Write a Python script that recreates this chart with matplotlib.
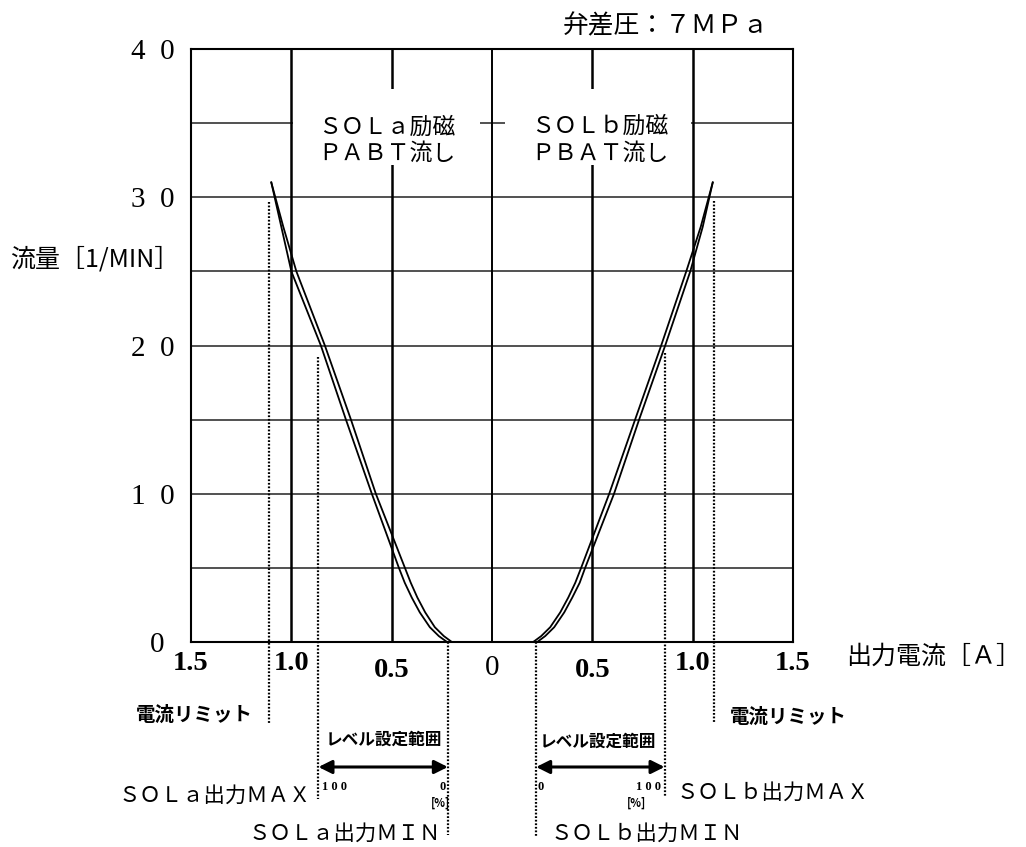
import matplotlib.pyplot as plt
from matplotlib.patches import Rectangle

plt.rcParams['font.family'] = ['Noto Sans CJK JP', 'DejaVu Sans']

# 流量カーブ (出力電流 [A], 流量 [1/MIN])
flow = [0, 0.4, 1, 2, 3, 4, 5, 10, 15, 20, 25, 28, 31]
sola_outer = [-0.224, -0.265, -0.31, -0.36, -0.40, -0.435, -0.464, -0.599, -0.728, -0.853, -1.0, -1.05, -1.10]
sola_inner = [-0.20, -0.24, -0.285, -0.333, -0.372, -0.405, -0.434, -0.579, -0.703, -0.833, -0.975, -1.04, -1.10]
solb_inner = [0.205, 0.245, 0.29, 0.34, 0.38, 0.415, 0.444, 0.584, 0.713, 0.843, 0.968, 1.04, 1.10]
solb_outer = [0.225, 0.265, 0.31, 0.36, 0.40, 0.437, 0.464, 0.608, 0.733, 0.863, 0.988, 1.05, 1.10]

# 目盛り
x_ticks = [-1.5, -1.0, -0.5, 0, 0.5, 1.0, 1.5]
x_labels = ['1.5', '1.0', '0.5', '0', '0.5', '1.0', '1.5']
y_ticks = [10, 20, 30, 40]
y_labels = ['1  0', '2  0', '3  0', '4  0']

# 点線 (x位置, 上端, 下端)
limit_x = [-1.11, 1.105]
limit_top = [29.7, 29.75]
limit_bot = [-5.46, -5.4]
max_x = [-0.865, 0.86]
max_top = [19.2, 19.5]
max_bot = [-10.6, -10.45]
min_x = [-0.22, 0.22]
min_bot = [-13.0, -13.15]

fig = plt.figure(figsize=(10.26, 8.47), dpi=100)
ax = fig.add_axes([0.1862, 0.2420, 0.5867, 0.7001])
ax.set_xlim(-1.5, 1.5)
ax.set_ylim(0, 40)

# グリッド
for yv in range(5, 40, 5):
    ax.axhline(yv, color='#222222', lw=1.1, zorder=1)
for xv in [-1.0, -0.5, 0.5, 1.0]:
    ax.axvline(xv, color='black', lw=1.8, zorder=1)
ax.axvline(0, color='black', lw=1.4, zorder=1)
for sp in ax.spines.values():
    sp.set_linewidth(1.5)

# 文字の白抜き
ax.add_patch(Rectangle((-0.99, 32.2), 0.93, 5.1, facecolor='white', edgecolor='none', zorder=2))
ax.add_patch(Rectangle((0.065, 32.2), 0.925, 5.1, facecolor='white', edgecolor='none', zorder=2))
ax.text(-0.525, 34.7, 'ＳＯＬａ励磁', ha='center', va='center', fontsize=16.5, zorder=3)
ax.text(-0.525, 33.0, 'ＰＡＢＴ流し', ha='center', va='center', fontsize=16.5, zorder=3)
ax.text(0.535, 34.8, 'ＳＯＬｂ励磁', ha='center', va='center', fontsize=16.5, zorder=3)
ax.text(0.535, 33.0, 'ＰＢＡＴ流し', ha='center', va='center', fontsize=16.5, zorder=3)

# カーブ
for xs in [sola_outer, sola_inner, solb_inner, solb_outer]:
    ax.plot(xs, flow, color='black', lw=1.3, zorder=4)

# 点線
for xs, tops, bots in [(limit_x, limit_top, limit_bot), (max_x, max_top, max_bot),
                       (min_x, [0, 0], min_bot)]:
    for xv, t, b in zip(xs, tops, bots):
        ax.plot([xv, xv], [t, b], color='black', lw=1.6, ls=(0, (0.8, 0.8)),
                clip_on=False, zorder=4)

# 目盛りラベル
ax.set_xticks([])
ax.set_yticks(y_ticks)
ax.set_yticklabels(y_labels, family='Liberation Serif', fontsize=21)
ax.tick_params(axis='y', length=0, pad=12)
for xv, lab in zip(x_ticks, x_labels):
    if lab == '0':
        ax.text(xv, -1.75, lab, ha='center', va='center', family='Liberation Serif',
                fontsize=21, clip_on=False)
    else:
        yy = -1.89 if lab == '0.5' else -1.48
        ax.text(xv, yy, lab, ha='center', va='center', family='Liberation Serif',
                weight='bold', fontsize=20.5, clip_on=False)
ax.text(-1.67, -0.2, '0', ha='center', va='center', family='Liberation Serif', fontsize=21)

ax.text(-2.40, 25.8, '流量［1/MIN］', ha='left', va='center', fontsize=18)
ax.text(1.765, -1.0, '出力電流［Ａ］', ha='left', va='center', fontsize=18)
ax.text(0.867, 41.5, '弁差圧：７ＭＰａ', ha='center', va='center', fontsize=18.5)

# 下部の注記
ax.text(-1.19, -4.95, '電流リミット', ha='right', va='center', fontsize=14, weight='bold')
ax.text(1.185, -5.1, '電流リミット', ha='left', va='center', fontsize=14, weight='bold')
ax.text(-0.54, -6.6, 'レベル設定範囲', ha='center', va='center', fontsize=12, weight='bold')
ax.text(0.528, -6.7, 'レベル設定範囲', ha='center', va='center', fontsize=12, weight='bold')

for x0, x1 in [(max_x[0], min_x[0]), (min_x[1], max_x[1])]:
    ax.annotate('', xy=(x0, -8.43), xytext=(x1, -8.43), annotation_clip=False,
                arrowprops=dict(arrowstyle='<|-|>', color='black', lw=2.2,
                                mutation_scale=20, shrinkA=0, shrinkB=0))

small = dict(va='center', fontsize=9, family='Liberation Serif', weight='bold')
ax.text(-0.845, -9.8, '1 0 0', ha='left', **small)
ax.text(-0.245, -9.8, '0', ha='center', **small)
ax.text(-0.255, -10.9, '[%]', ha='center', va='center', fontsize=8, weight='bold')
ax.text(0.24, -9.8, '0', ha='center', **small)
ax.text(0.84, -9.8, '1 0 0', ha='right', **small)
ax.text(0.72, -10.9, '[%]', ha='center', va='center', fontsize=8, weight='bold')

ax.text(-0.905, -10.4, 'ＳＯＬａ出力ＭＡＸ', ha='right', va='center', fontsize=15.4)
ax.text(-0.255, -12.95, 'ＳＯＬａ出力ＭＩＮ', ha='right', va='center', fontsize=15.4)
ax.text(0.92, -10.2, 'ＳＯＬｂ出力ＭＡＸ', ha='left', va='center', fontsize=15.4)
ax.text(0.29, -12.95, 'ＳＯＬｂ出力ＭＩＮ', ha='left', va='center', fontsize=15.4)

fig.savefig('out.png', dpi=100)
